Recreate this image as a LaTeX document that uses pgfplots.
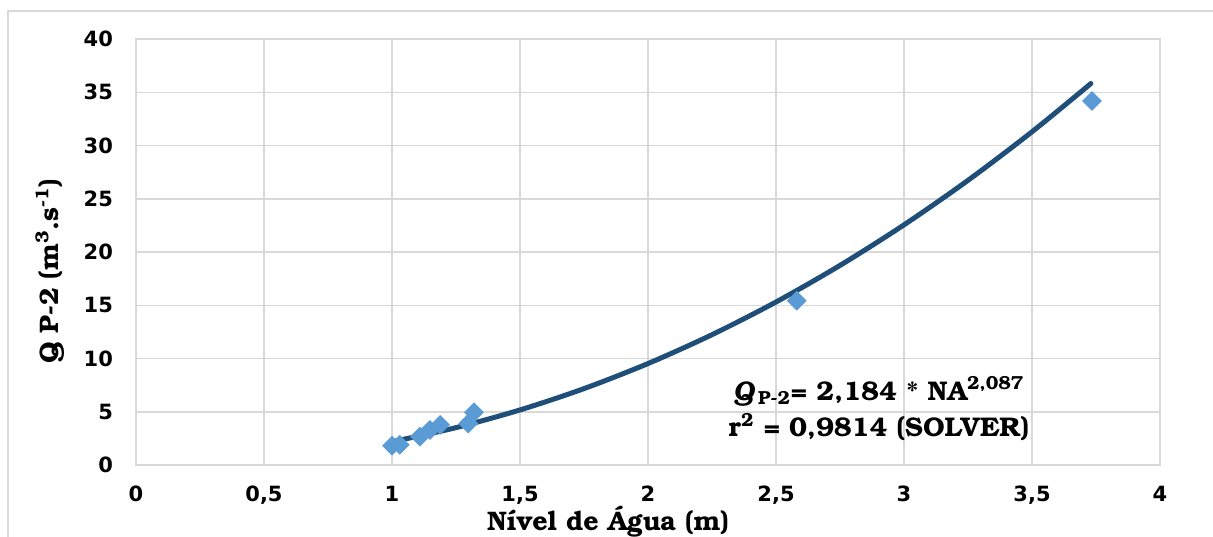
\documentclass[border=0pt]{standalone}
\usepackage{fontspec}
\usepackage{pgfplots}
\pgfplotsset{compat=1.18}
\newfontfamily\bonum{TeX Gyre Bonum}
\newfontfamily\ticksf{DejaVu Sans}
\definecolor{ptblue}{HTML}{5B9BD5}
\definecolor{lnblue}{HTML}{1F4E79}
\definecolor{gridc}{HTML}{D9D9D9}
\begin{document}
\begin{tikzpicture}
\useasboundingbox (-68pt,-35.5pt) rectangle (538.5pt,232.5pt);
\draw[gridc, line width=0.75pt] (-64pt,-60pt) -- (-64pt,227pt) -- (600pt,227pt);
\begin{axis}[
  at={(0pt,0pt)}, anchor=south west,
  scale only axis,
  width=512pt, height=213pt,
  xmin=0, xmax=4, ymin=0, ymax=40,
  xtick={0,0.5,...,4}, ytick={0,5,...,40},
  grid=major,
  major grid style={gridc, line width=0.75pt},
  axis line style={gridc, line width=0.75pt},
  major tick length=0pt,
  /pgf/number format/use comma,
  /pgf/number format/assume math mode=true,
  tick label style={font=\ticksf\bfseries\fontsize{10.5}{12}\selectfont},
  yticklabel style={anchor=east, xshift=-8pt},
  xticklabel style={anchor=north, yshift=-7pt},
  xlabel={Nível de Água (m)},
  ylabel={Q P-2 (m\textsuperscript{3}.s\textsuperscript{-1})},
  label style={font=\bonum\bfseries\fontsize{13.4}{15}\selectfont},
  xlabel style={at={(rel axis cs:0.461,0)}, anchor=center, yshift=-28.5pt},
  ylabel style={at={(rel axis cs:0,0.455)}, anchor=center, yshift=43pt},
  clip=false,
]
\addplot[lnblue, line width=2.5pt, line cap=round, smooth] coordinates {
(1.0,2.184) (1.25,3.509) (1.5,5.170) (1.75,7.173) (2.0,9.527) (2.25,12.237)
(2.5,15.307) (2.75,18.743) (3.0,22.551) (3.25,26.731) (3.5,31.290) (3.73,35.819)
};
\addplot[only marks, mark=square*, mark size=3.3pt, mark options={rotate=45, fill=ptblue, draw=ptblue}] coordinates {
(1.0,1.8) (1.03,1.9) (1.109,2.66) (1.148,3.29) (1.188,3.76) (1.298,3.9) (1.320,4.95)
(2.581,15.43) (3.734,34.18)
};
\node[font=\bonum\bfseries\fontsize{13.5}{16}\selectfont, anchor=base] at (axis cs:2.902,6.10)
 {{\itshape Q\/}\kern1.5pt\textsubscript{P-2}= 2,184 * NA\textsuperscript{2,087}};
\node[font=\bonum\bfseries\fontsize{13.5}{16}\selectfont, anchor=base] at (axis cs:2.902,2.66)
 {r\textsuperscript{2} = 0,9814 (SOLVER)};
\end{axis}
\end{tikzpicture}
\end{document}
